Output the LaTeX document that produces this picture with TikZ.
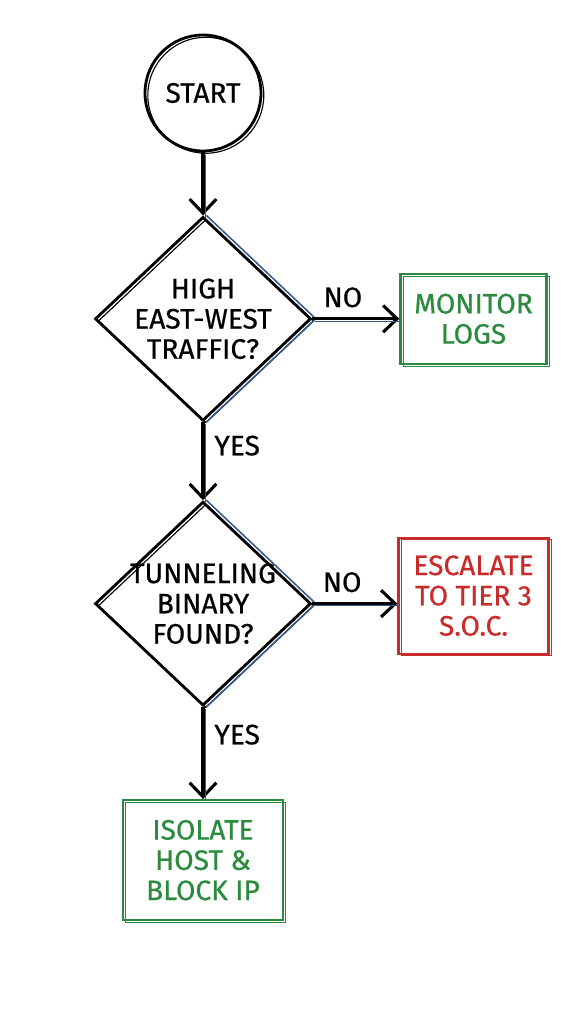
\documentclass[tikz,border=0pt]{standalone}
\usepackage{fontspec}
\setmainfont{Fira Sans}[FakeBold=0.6]
\usetikzlibrary{positioning,shapes.geometric,arrows.meta}

\definecolor{inkgreen}{HTML}{2B8A3E}
\definecolor{inkred}{HTML}{C92A2A}
\definecolor{inkblue}{HTML}{33598C}

\tikzset{
    hand/.style={font=\fontsize{20}{21.5}\selectfont, align=center},
    rough/.style={postaction={draw, line width=0.8pt,
        transform canvas={shift={(2pt,-1.6pt)}}}},
    startnode/.style={circle, draw, line width=2pt, minimum size=2.9cm,
        hand, rough},
    decision/.style={diamond, draw, line width=2pt, inner sep=-0.4cm,
        minimum width=5.4cm, minimum height=5.1cm, hand, rough},
    action/.style={rectangle, draw=#1, text=#1, line width=1.6pt, hand, rough},
    flow/.style={line width=2.2pt,
        -{Straight Barb[length=10pt, width=19pt]},
        postaction={draw=inkblue, line width=0.8pt, -,
            transform canvas={shift={(1.8pt,-1.6pt)}}}},
    edgelabel/.style={hand, inner sep=7pt},
    blueedge/.style={draw=inkblue, line width=1.1pt},
}

\begin{document}
\begin{tikzpicture}
    \useasboundingbox (-5.075,-23.275) rectangle (9.225,2.325);

    \node[startnode] (start) {START};
    \node[decision, below=1.575cm of start] (traffic) {HIGH\\EAST-WEST\\TRAFFIC?};
    \node[action=inkgreen, minimum width=3.65cm, minimum height=2.25cm,
        right=2.175cm of traffic] (monitor) {MONITOR\\LOGS};
    \node[decision, below=1.95cm of traffic] (tunnel) {TUNNELING\\BINARY\\FOUND?};
    \node[action=inkred, minimum width=3.75cm, minimum height=2.9cm,
        right=2.125cm of tunnel, yshift=0.2cm] (escalate) {ESCALATE\\TO TIER 3\\S.O.C.};
    \node[action=inkgreen, minimum width=4cm, minimum height=3cm,
        below=2.3cm of tunnel] (isolate) {ISOLATE\\HOST \&\\BLOCK IP};

    % blue strokes along the right edges of the decisions
    \draw[blueedge] ([xshift=2.4pt]traffic.north) -- ([xshift=2.4pt]traffic.east)
        -- ([xshift=2.4pt]traffic.south);
    \draw[blueedge] ([xshift=2.4pt]tunnel.north) -- ([xshift=2.4pt]tunnel.east)
        -- ([xshift=2.4pt]tunnel.south);

    \draw[flow] (start) -- (traffic);
    \draw[flow] (traffic) -- node[edgelabel, above, pos=0.35] (no1) {NO} (monitor);
    \draw[flow] (traffic) -- node[edgelabel, right, pos=0.3] (yes1) {YES} (tunnel);
    \draw[flow] (tunnel.east) -- node[edgelabel, above, pos=0.35] (no2) {NO}
        (tunnel.east -| escalate.west);
    \draw[flow] (tunnel) -- node[edgelabel, right, pos=0.3] (yes2) {YES} (isolate);
\end{tikzpicture}
\end{document}
